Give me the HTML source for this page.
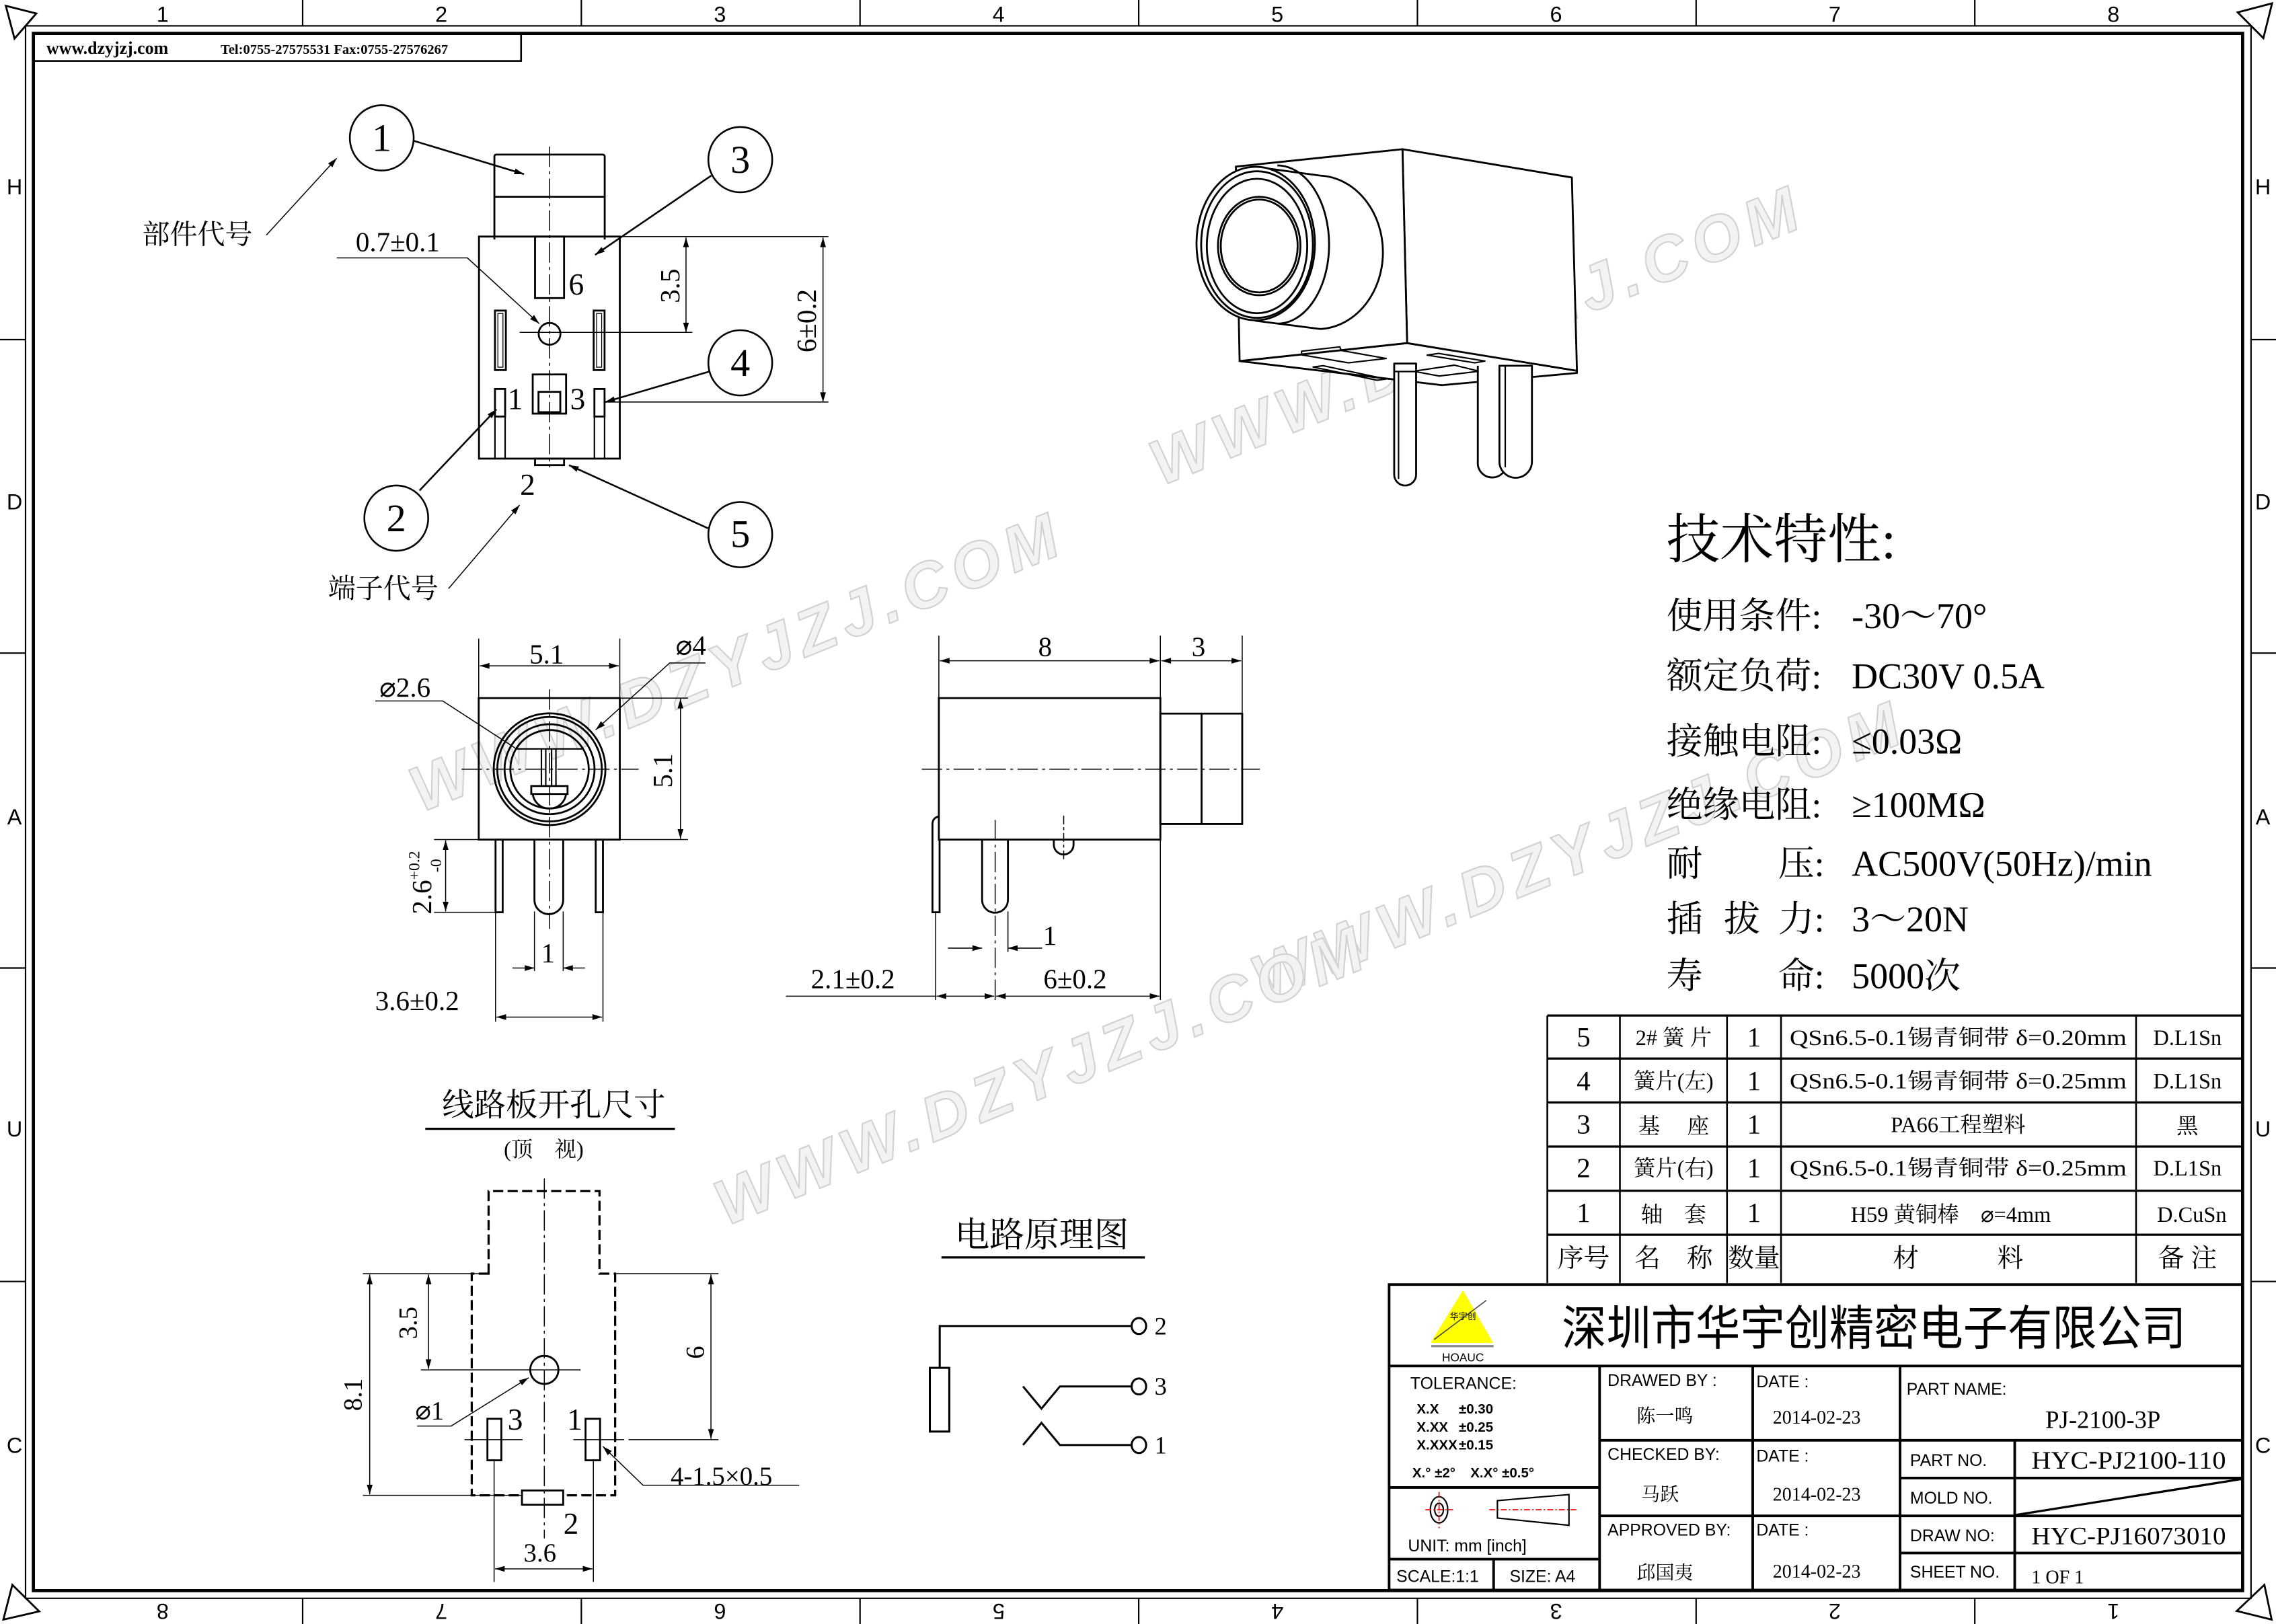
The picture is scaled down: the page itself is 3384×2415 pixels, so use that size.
<!DOCTYPE html>
<html><head><meta charset="utf-8"><style>
html,body{margin:0;padding:0;background:#fff}
svg{display:block}
text{font-family:"Liberation Serif","Noto Serif CJK SC",serif;fill:#000}
text.s,.s text{font-family:"Liberation Sans","Noto Sans CJK SC",sans-serif}
.wm text{font-family:"Liberation Sans",sans-serif;font-weight:bold;font-style:italic;fill:#f3f3f3;stroke:#d2d2d2;stroke-width:1}
</style></head><body>
<svg width="3384" height="2415" viewBox="0 0 1568 1119" preserveAspectRatio="none" xmlns="http://www.w3.org/2000/svg">
<defs>
<marker id="a" viewBox="0 0 10 6" refX="10" refY="3" markerWidth="9" markerHeight="4" markerUnits="userSpaceOnUse" orient="auto-start-reverse"><path d="M0,0L10,3L0,6z" fill="#000"/></marker>
</defs>
<rect width="1568" height="1119" fill="#fff"/>

<!-- watermarks -->
<g class="wm" font-size="44" letter-spacing="5">
<text transform="translate(290,560) rotate(-22)">WWW.DZYJZJ.COM</text>
<text transform="translate(800,335) rotate(-22)">WWW.DZYJZJ.COM</text>
<text transform="translate(870,690) rotate(-22)">WWW.DZYJZJ.COM</text>
<text transform="translate(500,845) rotate(-22)">WWW.DZYJZJ.COM</text>
</g>

<!-- frame -->
<g fill="none" stroke="#000">
<rect x="17.6" y="17.8" width="1533.2" height="1083.5" stroke-width="1"/>
<rect x="23" y="23" width="1522" height="1073" stroke-width="2.2"/>
<path d="M208.5,0V18M400.5,0V18M592.5,0V18M784.5,0V18M976.5,0V18M1168.5,0V18M1360.5,0V18" stroke-width="1"/>
<path d="M208.5,1101V1119M400.5,1101V1119M592.5,1101V1119M784.5,1101V1119M976.5,1101V1119M1168.5,1101V1119M1360.5,1101V1119" stroke-width="1"/>
<path d="M0,234H18M0,450H18M0,667H18M0,883H18M1551,234H1568M1551,450H1568M1551,667H1568M1551,883H1568" stroke-width="1"/>
<path d="M4,4L25,9.3L10,26.6Z M1541.6,8.5L1565.3,2.3L1559.3,26.3Z M8.5,1092L27,1110.3L2.3,1116Z M1560,1092L1541,1110L1565,1116Z" stroke-width="1.3"/>
</g>
<g class="s" font-size="15" text-anchor="middle">
<text x="112" y="15">1</text><text x="304" y="15">2</text><text x="496" y="15">3</text><text x="688" y="15">4</text><text x="880" y="15">5</text><text x="1072" y="15">6</text><text x="1264" y="15">7</text><text x="1456" y="15">8</text>
<g transform="rotate(180 784 1110)">
<text x="112" y="1115">1</text><text x="304" y="1115">2</text><text x="496" y="1115">3</text><text x="688" y="1115">4</text><text x="880" y="1115">5</text><text x="1072" y="1115">6</text><text x="1264" y="1115">7</text><text x="1456" y="1115">8</text>
</g>
<text x="10" y="134">H</text><text x="10" y="351">D</text><text x="10" y="568">A</text><text x="10" y="783">U</text><text x="10" y="1001">C</text>
<text x="1559" y="134">H</text><text x="1559" y="351">D</text><text x="1559" y="568">A</text><text x="1559" y="783">U</text><text x="1559" y="1001">C</text>
</g>

<!-- website box -->
<rect x="23" y="23" width="336" height="19" fill="none" stroke="#000" stroke-width="1.2"/>
<text x="32" y="37" font-size="12" font-weight="bold">www.dzyjzj.com</text>
<text x="152" y="37" font-size="9.5" font-weight="bold">Tel:0755-27575531  Fax:0755-27576267</text>

<!-- ============ top-left view ============ -->
<g fill="none" stroke="#000" stroke-width="1.3">
<path d="M340.6,165V108Q340.6,106.5 342,106.5H415Q416.6,106.5 416.6,108V165"/>
<line x1="340.6" y1="135.6" x2="416.6" y2="135.6"/>
<rect x="330" y="163" width="97" height="153"/>
<rect x="368.6" y="163" width="20" height="42.4"/>
<rect x="341" y="214" width="7.5" height="41"/><rect x="343" y="216" width="3.5" height="37" stroke-width=".6"/>
<rect x="409" y="214" width="7.5" height="41"/><rect x="411" y="216" width="3.5" height="37" stroke-width=".6"/>
<rect x="367" y="258" width="23" height="27"/>
<rect x="371" y="270" width="15" height="14"/>
<rect x="341" y="268" width="7" height="19"/>
<rect x="409.5" y="268" width="7" height="19"/>
<path d="M341,287V316M348,287V316M409.5,287V316M416.5,287V316" stroke-width="1"/>
<rect x="368.6" y="316" width="20" height="4.5"/>
<circle cx="378.6" cy="230" r="7.5"/>
</g>
<g stroke="#000" stroke-width=".7" fill="none">
<line x1="378.6" y1="101" x2="378.6" y2="322" stroke-dasharray="14,3,2,3"/>
<line x1="358" y1="229" x2="477" y2="229"/>
<line x1="427" y1="163" x2="570.7" y2="163"/>
<line x1="417" y1="277" x2="570.7" y2="277"/>
<line x1="472.6" y1="163.6" x2="472.6" y2="229" marker-start="url(#a)" marker-end="url(#a)"/>
<line x1="567" y1="163.6" x2="567" y2="277" marker-start="url(#a)" marker-end="url(#a)"/>
<path d="M232,177.7H322L371.5,223" marker-end="url(#a)"/>
<path d="M183.5,162L232,109" marker-end="url(#a)"/>
<path d="M309,405.6L358,348" marker-end="url(#a)"/>
</g>
<g stroke="#000" stroke-width="1.2" fill="none">
<line x1="285" y1="97" x2="361" y2="120" marker-end="url(#a)"/>
<line x1="490" y1="121" x2="410" y2="175.6" marker-end="url(#a)"/>
<line x1="488.7" y1="256" x2="417" y2="277" marker-end="url(#a)"/>
<line x1="289" y1="338" x2="342" y2="282" marker-end="url(#a)"/>
<line x1="487.7" y1="364" x2="392" y2="320.5" marker-end="url(#a)"/>
<ellipse cx="263" cy="95" rx="22" ry="22.5"/>
<ellipse cx="510" cy="110" rx="22" ry="22.5"/>
<ellipse cx="510" cy="250" rx="22" ry="22.5"/>
<ellipse cx="273" cy="357" rx="22" ry="22.5"/>
<ellipse cx="510" cy="368.4" rx="22" ry="22.5"/>
</g>
<g font-size="27" text-anchor="middle">
<text x="263" y="104">1</text><text x="510" y="119">3</text><text x="510" y="259">4</text><text x="273" y="366">2</text><text x="510" y="377">5</text>
</g>
<g font-size="21" text-anchor="middle">
<text x="397" y="203">6</text><text x="355" y="282">1</text><text x="398" y="282">3</text><text x="363.5" y="341">2</text>
</g>
<text x="274" y="173" font-size="19" text-anchor="middle">0.7±0.1</text>
<text transform="translate(468,197) rotate(-90)" font-size="19" text-anchor="middle">3.5</text>
<text transform="translate(562,221) rotate(-90)" font-size="19" text-anchor="middle">6±0.2</text>
<text x="136" y="168" font-size="19" text-anchor="middle">部件代号</text>
<text x="264" y="412" font-size="19" text-anchor="middle">端子代号</text>

<!-- ============ front view ============ -->
<g fill="none" stroke="#000" stroke-width="1.3">
<rect x="329.8" y="481" width="97.2" height="97.5"/>
<circle cx="378.6" cy="530" r="38.5"/>
<circle cx="378.6" cy="530" r="36"/>
<circle cx="378.6" cy="530" r="31"/>
<circle cx="378.6" cy="530" r="27"/>
<path d="M356,516H401M373,516V541.6M383,516V541.6M376,516V541.6M380,516V541.6" stroke-width="1"/>
<rect x="366" y="541.6" width="25" height="5.5"/>
<path d="M367,547.1A11.6,11.6 0 0 0 390,547.1"/>
<rect x="341.4" y="578.5" width="4.9" height="50.1"/>
<rect x="410.4" y="578.5" width="5" height="50.1"/>
<path d="M368.2,578.5V620A9.9,9.9 0 0 0 388,620V578.5"/>
</g>
<g stroke="#000" stroke-width=".7" fill="none">
<line x1="318" y1="530" x2="440" y2="530" stroke-dasharray="14,3,2,3"/>
<line x1="378.6" y1="475" x2="378.6" y2="640" stroke-dasharray="14,3,2,3"/>
<path d="M329.8,440V481M427,440V481"/>
<line x1="330.5" y1="458.8" x2="426.3" y2="458.8" marker-start="url(#a)" marker-end="url(#a)"/>
<path d="M427,481H474M427,578.5H474"/>
<line x1="468.8" y1="481.5" x2="468.8" y2="578" marker-start="url(#a)" marker-end="url(#a)"/>
<path d="M299,578.5H330M299,628.6H342"/>
<line x1="307" y1="579" x2="307" y2="628" marker-start="url(#a)" marker-end="url(#a)"/>
<path d="M368.2,628V669M388,628V669"/>
<line x1="353" y1="667" x2="368.2" y2="667" marker-end="url(#a)"/>
<line x1="403" y1="667" x2="388" y2="667" marker-end="url(#a)"/>
<path d="M341.4,628V704M415.4,628V704"/>
<line x1="342" y1="700.8" x2="414.8" y2="700.8" marker-start="url(#a)" marker-end="url(#a)"/>
<path d="M258.6,483H305L355.8,516"/>
<path d="M486,456.8H461.4L410.4,502.9" marker-end="url(#a)"/>
</g>
<text x="376.6" y="457" font-size="19" text-anchor="middle">5.1</text>
<text transform="translate(463,531) rotate(-90)" font-size="19" text-anchor="middle">5.1</text>
<text x="279" y="480" font-size="19" text-anchor="middle">⌀2.6</text>
<text x="476" y="451" font-size="19" text-anchor="middle">⌀4</text>
<text transform="translate(297,630) rotate(-90)" font-size="19">2.6<tspan font-size="11" dy="-8">+0.2</tspan></text>
<text transform="translate(304,601) rotate(-90)" font-size="11">-0</text>
<text x="377.5" y="663" font-size="19" text-anchor="middle">1</text>
<text x="287.4" y="696" font-size="19" text-anchor="middle">3.6±0.2</text>

<!-- ============ side view ============ -->
<g fill="none" stroke="#000" stroke-width="1.3">
<rect x="646.8" y="481" width="152.6" height="97.5"/>
<rect x="799.4" y="491.7" width="56.4" height="76.1"/>
<line x1="827.8" y1="491.7" x2="827.8" y2="567.8"/>
<path d="M646.8,562.5Q642.4,563.5 642.4,568V628.6H647.3V578.5"/>
<path d="M676.6,578.5V620A8.9,8.9 0 0 0 694.4,620V578.5"/>
<path d="M726,578.5V582A6.8,6.8 0 0 0 739.6,582V578.5"/>
</g>
<g stroke="#000" stroke-width=".7" fill="none">
<line x1="635" y1="530" x2="868" y2="530" stroke-dasharray="14,3,2,3"/>
<line x1="685.6" y1="565" x2="685.6" y2="690" stroke-dasharray="14,3,2,3"/>
<line x1="732.8" y1="562" x2="732.8" y2="594" stroke-dasharray="6,2,2,2"/>
<path d="M646.8,438V481M799.4,438V481M855.8,438V491.7"/>
<line x1="647.5" y1="455.3" x2="798.7" y2="455.3" marker-start="url(#a)" marker-end="url(#a)"/>
<line x1="800.1" y1="455.3" x2="855.1" y2="455.3" marker-start="url(#a)" marker-end="url(#a)"/>
<path d="M644.6,628V689M799.4,578.5V689M694.4,628V656"/>
<line x1="653" y1="653.3" x2="676.6" y2="653.3" marker-end="url(#a)"/>
<line x1="718" y1="653.3" x2="694.4" y2="653.3" marker-end="url(#a)"/>
<line x1="541.4" y1="686.4" x2="644.6" y2="686.4"/>
<line x1="645.2" y1="686.4" x2="685" y2="686.4" marker-start="url(#a)" marker-end="url(#a)"/>
<line x1="686.2" y1="686.4" x2="798.8" y2="686.4" marker-start="url(#a)" marker-end="url(#a)"/>
</g>
<text x="720" y="452" font-size="19" text-anchor="middle">8</text>
<text x="825.7" y="452" font-size="19" text-anchor="middle">3</text>
<text x="723.3" y="651" font-size="19" text-anchor="middle">1</text>
<text x="587.6" y="681" font-size="19" text-anchor="middle">2.1±0.2</text>
<text x="740.7" y="681" font-size="19" text-anchor="middle">6±0.2</text>

<!-- ============ 3D view ============ -->
<g fill="#fff" stroke="#000" stroke-width="1.3" stroke-linejoin="round">
<path d="M854,248.8L993.3,265.4L1086.4,257L1086.4,255.5L969.4,236.4Z"/>
<path d="M966.2,102.8L1082.9,122.3L1086.4,255.5L969.4,236.4Z"/>
<path d="M851.4,114.8L966.2,102.8L969.4,236.4L854,248.8Z"/>
<path d="M865,115L909.5,121A45.2,52.9 0 0 1 909.5,226.7L865,221Z"/>
<path d="M880,114A34.6,52.9 0 0 1 880,223" fill="none"/>
<ellipse cx="865.1" cy="167.8" rx="40.8" ry="52.9"/>
<ellipse cx="866" cy="168.5" rx="38.5" ry="50.5" fill="none"/>
<ellipse cx="866" cy="169.5" rx="34.6" ry="46.3" fill="none"/>
<ellipse cx="867.5" cy="169.5" rx="28.4" ry="33.9" fill="none"/>
<ellipse cx="867.5" cy="169.5" rx="26.5" ry="32" fill="none"/>
<path d="M896.7,242L923,239L924,241.5L955,247L929,250L896.7,244.5Z" fill="none" stroke-width="1"/>
<path d="M983.2,244.7L991.1,243.5L1023,248.8L1016,250Z" fill="none" stroke-width="1"/>
<path d="M904.6,252.9L911.5,252L954.9,261.2L948.7,262Z" fill="none" stroke-width="1"/>
<path d="M973.8,255.8L1002,251.6L1019,255.8L991.5,259.1Z" fill="none" stroke-width="1"/>
<path d="M960.5,250.5V327A7.5,7.5 0 0 0 975.6,327V250.5Z"/>
<path d="M963.5,256V330M960.5,256H975.6" fill="none" stroke-width="1"/>
<path d="M1018.1,252V318A10,10 0 0 0 1038,320V252"/>
<path d="M1033,252V318A10,10 0 0 0 1055.4,318V252Z"/>
<path d="M1037,252V322" fill="none" stroke-width="1"/>
</g>

<!-- ============ tech specs ============ -->
<text x="1148" y="384.5" font-size="37">技术特性:</text>
<g font-size="25">
<text x="1148" y="432.8">使用条件:</text><text x="1275.7" y="432.8">-30～70°</text>
<text x="1148" y="474.3">额定负荷:</text><text x="1275.7" y="474.3">DC30V 0.5A</text>
<text x="1148" y="519.2">接触电阻:</text><text x="1275.7" y="519.2">≤0.03Ω</text>
<text x="1148" y="563">绝缘电阻:</text><text x="1275.7" y="563">≥100MΩ</text>
<text x="1148" y="603.5">耐</text><text x="1225" y="603.5">压:</text><text x="1275.7" y="603.5">AC500V(50Hz)/min</text>
<text x="1148" y="641.7">插</text><text x="1187.6" y="641.7">拔</text><text x="1225" y="641.7">力:</text><text x="1275.7" y="641.7">3～20N</text>
<text x="1148" y="681">寿</text><text x="1225" y="681">命:</text><text x="1275.7" y="681">5000次</text>
</g>

<!-- ============ material table ============ -->
<g fill="none" stroke="#000">
<path d="M1066,699.7H1545M1066,729.4H1545M1066,759.6H1545M1066,790H1545M1066,820.5H1545M1066,850.8H1545" stroke-width="1.5"/>
<path d="M1066,699.7V884M1116,699.7V884M1189.8,699.7V884M1227,699.7V884M1471.6,699.7V884" stroke-width="1.2"/>
</g>
<g font-size="19" text-anchor="middle">
<text x="1091" y="721">5</text><text x="1091" y="751">4</text><text x="1091" y="781">3</text><text x="1091" y="811">2</text><text x="1091" y="842">1</text>
<text x="1208.4" y="721">1</text><text x="1208.4" y="751">1</text><text x="1208.4" y="781">1</text><text x="1208.4" y="811">1</text><text x="1208.4" y="842">1</text>
</g>
<g font-size="15" text-anchor="middle">
<text x="1153" y="720">2# 簧 片</text><text x="1153" y="750">簧片(左)</text><text x="1153" y="781">基　 座</text><text x="1153" y="810">簧片(右)</text><text x="1153" y="842">轴　套</text>
<text x="1349" y="720" textLength="232" lengthAdjust="spacingAndGlyphs">QSn6.5-0.1锡青铜带 δ=0.20mm</text>
<text x="1349" y="750" textLength="232" lengthAdjust="spacingAndGlyphs">QSn6.5-0.1锡青铜带 δ=0.25mm</text>
<text x="1349" y="780">PA66工程塑料</text>
<text x="1349" y="810" textLength="232" lengthAdjust="spacingAndGlyphs">QSn6.5-0.1锡青铜带 δ=0.25mm</text>
<text x="1344" y="842">H59 黄铜棒　⌀=4mm</text>
<text x="1507" y="720">D.L1Sn</text><text x="1507" y="750">D.L1Sn</text><text x="1507" y="781">黑</text><text x="1507" y="810">D.L1Sn</text><text x="1510" y="842">D.CuSn</text>
</g>
<g font-size="18" text-anchor="middle">
<text x="1091" y="873">序号</text><text x="1153" y="873">名　称</text><text x="1208.4" y="873">数量</text><text x="1349" y="873">材　　　料</text><text x="1507" y="873">备 注</text>
</g>

<!-- ============ PCB layout ============ -->
<text x="381.5" y="769" font-size="22" text-anchor="middle">线路板开孔尺寸</text>
<line x1="293" y1="777.8" x2="465" y2="777.8" stroke="#000" stroke-width="1.5"/>
<text x="374.6" y="797" font-size="15" text-anchor="middle">(顶　视)</text>
<path d="M336.6,877.6V820.7H413V877.6H423.8V1030.3H325V877.6Z" fill="none" stroke="#000" stroke-width="1.5" stroke-dasharray="7,3"/>
<g fill="none" stroke="#000" stroke-width="1.3">
<circle cx="375" cy="943.9" r="9.7"/>
<rect x="335.8" y="977.6" width="9.6" height="28.6"/>
<rect x="403.4" y="977.6" width="10" height="28.6"/>
<rect x="359.6" y="1027" width="28.4" height="9.8" fill="#fff"/>
</g>
<g stroke="#000" stroke-width=".7" fill="none">
<line x1="375" y1="812" x2="375" y2="1060" stroke-dasharray="14,3,2,3"/>
<path d="M290,943.9H400M320,992H360M395,992H430M340.4,1006V1090M408.8,1006V1090"/>
<path d="M250,877.6H336.6M250,1030.3H359.6M423.8,877.6H495M433,992H495"/>
<line x1="254.7" y1="878.2" x2="254.7" y2="1029.7" marker-start="url(#a)" marker-end="url(#a)"/>
<line x1="295.2" y1="878.2" x2="295.2" y2="943.3" marker-start="url(#a)" marker-end="url(#a)"/>
<line x1="489.8" y1="878.2" x2="489.8" y2="991.4" marker-start="url(#a)" marker-end="url(#a)"/>
<line x1="341" y1="1081" x2="408.2" y2="1081" marker-start="url(#a)" marker-end="url(#a)"/>
<path d="M287.4,982.6H310.8L364.2,949.3" marker-end="url(#a)"/>
<path d="M550.6,1023.4H443L415.3,996.6" marker-end="url(#a)"/>
</g>
<g font-size="21" text-anchor="middle">
<text x="355" y="985">3</text><text x="396" y="985">1</text><text x="393.4" y="1057">2</text>
</g>
<g font-size="18" text-anchor="middle">
<text transform="translate(249,961) rotate(-90)">8.1</text>
<text transform="translate(287,911.5) rotate(-90)">3.5</text>
<text transform="translate(485,931.8) rotate(-90)">6</text>
<text x="296" y="978">⌀1</text>
<text x="497" y="1023">4-1.5×0.5</text>
<text x="372" y="1076">3.6</text>
</g>

<!-- ============ circuit ============ -->
<text x="717.7" y="859" font-size="24" text-anchor="middle">电路原理图</text>
<line x1="648.6" y1="866.4" x2="788.7" y2="866.4" stroke="#000" stroke-width="1.5"/>
<g fill="none" stroke="#000" stroke-width="1.4">
<rect x="640.6" y="942.5" width="13.4" height="43.9"/>
<path d="M647.4,942.5V913.7H779"/>
<path d="M704.8,955.3L717.5,970.6L730.2,955.3H779"/>
<path d="M704.8,995.7L717.5,980.4L730.2,995.7H779"/>
<ellipse cx="784.6" cy="913.7" rx="5" ry="5.5"/>
<ellipse cx="784.6" cy="955.3" rx="5" ry="5.5"/>
<ellipse cx="784.6" cy="995.7" rx="5" ry="5.5"/>
</g>
<g font-size="17" text-anchor="middle">
<text x="799.6" y="919.5">2</text><text x="799.6" y="961">3</text><text x="799.6" y="1001.5">1</text>
</g>

<!-- ============ title block ============ -->
<g fill="none" stroke="#000" stroke-width="1.8">
<rect x="957" y="885.1" width="588" height="210.5"/>
<path d="M957,941.2H1545M1102,941.2V1095.6M1207.5,941.2V1095.6M1309,941.2V1095.6M1309,992.4H1545M1388,992.4V1095.6M1102,992.4H1309M1102,1044.5H1545M1309,1018.4H1545M1309,1070.1H1545M957,1024.9H1102M957,1074.3H1102M1029,1074.3V1095.6"/>
<path d="M1388,1044L1545,1019" stroke-width="1.5"/>
</g>
<path d="M1007.9,889L985.5,925.3H1028.7Z" fill="#ffff00"/>
<path d="M988,923L1024,896" fill="none" stroke="#555" stroke-width=".8"/>
<line x1="986" y1="927.5" x2="1029" y2="927.5" stroke="#888" stroke-width="1.5"/>
<text x="1007.9" y="909" font-size="6" text-anchor="middle" class="s">华宇创</text>
<text x="1007.9" y="938" font-size="8" text-anchor="middle" class="s">HOAUC</text>
<text x="1291" y="926.8" font-size="33" text-anchor="middle" textLength="430" lengthAdjust="spacingAndGlyphs" class="s">深圳市华宇创精密电子有限公司</text>
<g class="s" font-size="11.5">
<text x="971.6" y="957">TOLERANCE:</text>
<text x="976" y="974" font-size="9.5" font-weight="bold">X.X</text><text x="1005" y="974" font-size="9.5" font-weight="bold">±0.30</text>
<text x="976" y="986.4" font-size="9.5" font-weight="bold">X.XX</text><text x="1005" y="986.4" font-size="9.5" font-weight="bold">±0.25</text>
<text x="976" y="998.8" font-size="9.5" font-weight="bold">X.XXX</text><text x="1005" y="998.8" font-size="9.5" font-weight="bold">±0.15</text>
<text x="973" y="1018" font-size="9.5" font-weight="bold">X.° ±2°</text><text x="1013" y="1018" font-size="9.5" font-weight="bold">X.X° ±0.5°</text>
<text x="970" y="1069">UNIT:  mm  [inch]</text>
<text x="962" y="1090">SCALE:1:1</text><text x="1040" y="1090">SIZE:  A4</text>
<text x="1107.5" y="955">DRAWED  BY :</text>
<text x="1107.5" y="1006">CHECKED  BY:</text>
<text x="1107.5" y="1058">APPROVED  BY:</text>
<text x="1210" y="956">DATE :</text><text x="1210" y="1007">DATE :</text><text x="1210" y="1058">DATE :</text>
<text x="1313.5" y="961">PART  NAME:</text>
<text x="1315.9" y="1010">PART  NO.</text>
<text x="1315.9" y="1036">MOLD  NO.</text>
<text x="1315.9" y="1062">DRAW  NO:</text>
<text x="1315.9" y="1087">SHEET  NO.</text>
</g>
<g fill="none" stroke="#000" stroke-width="1">
<ellipse cx="991.4" cy="1040.3" rx="6" ry="9"/><ellipse cx="991.4" cy="1040.3" rx="3" ry="4.5"/>
<path d="M1031.6,1034L1080.9,1029.8V1051L1031.6,1046Z"/>
</g>
<path d="M982,1040.3H1001M991.4,1028V1053M1026,1040.3H1086" stroke="#e00" stroke-width=".8" stroke-dasharray="4,1.5,1,1.5" fill="none"/>
<g font-size="13" text-anchor="middle">
<text x="1147" y="980">陈一鸣</text><text x="1143.6" y="1034">马跃</text><text x="1147" y="1088">邱国夷</text>
<text x="1251.6" y="981">2014-02-23</text><text x="1251.6" y="1034">2014-02-23</text><text x="1251.6" y="1087">2014-02-23</text>
</g>
<text x="1448.8" y="984" font-size="17" text-anchor="middle" fill="#222">PJ-2100-3P</text>
<text x="1466.5" y="1012" font-size="17" text-anchor="middle" textLength="134" lengthAdjust="spacingAndGlyphs" fill="#222">HYC-PJ2100-110</text>
<text x="1466.5" y="1064" font-size="17" text-anchor="middle" textLength="134" lengthAdjust="spacingAndGlyphs" fill="#222">HYC-PJ16073010</text>
<text x="1399.5" y="1091" font-size="13">1 OF 1</text>
</svg>
</body></html>
